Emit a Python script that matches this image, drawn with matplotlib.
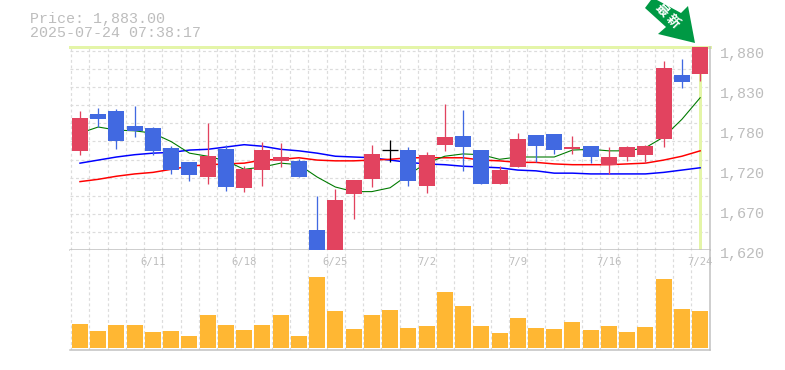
import numpy as np
import matplotlib
matplotlib.use('Agg')
import matplotlib.pyplot as plt
from matplotlib.patches import Polygon

# daily candles, oldest first
opens = [1748, 1796, 1800, 1780, 1778, 1752, 1733, 1714, 1750, 1700,
         1723, 1735, 1735, 1645, 1610, 1692, 1711, 1749, 1749, 1702,
         1756, 1767, 1749, 1705, 1727, 1769, 1770, 1750, 1754, 1730,
         1740, 1743, 1763, 1847, 1848]
closes = [1791, 1789, 1761, 1774, 1748, 1723, 1717, 1741, 1701, 1724,
          1749, 1740, 1714, 1610, 1684, 1710, 1744, 1749, 1709, 1743,
          1766, 1753, 1705, 1723, 1763, 1754, 1749, 1753, 1740, 1740,
          1753, 1754, 1856, 1838, 1883]
highs = [1800, 1804, 1802, 1806, 1779, 1754, 1733, 1784, 1756, 1728,
         1759, 1758, 1737, 1689, 1698, 1710, 1756, 1762, 1753, 1746,
         1809, 1801, 1749, 1728, 1771, 1769, 1770, 1767, 1754, 1753,
         1754, 1756, 1865, 1867, 1883]
lows = [1743, 1779, 1750, 1766, 1743, 1718, 1709, 1705, 1696, 1695,
        1702, 1727, 1714, 1605, 1610, 1659, 1701, 1733, 1702, 1693,
        1748, 1722, 1705, 1705, 1727, 1733, 1744, 1744, 1732, 1718,
        1735, 1732, 1753, 1830, 1839]

ma_green = [1771, 1779, 1775, 1774, 1771, 1760, 1745, 1741, 1735, 1724,
            1727, 1732, 1730, 1714, 1701, 1695, 1695, 1700, 1717, 1732,
            1741, 1744, 1743, 1737, 1740, 1740, 1740, 1749, 1750, 1748,
            1748, 1752, 1766, 1789, 1817]
ma_blue = [1732, 1736, 1740, 1743, 1745, 1746, 1749, 1750, 1753, 1756,
           1754, 1750, 1748, 1745, 1741, 1740, 1739, 1736, 1733, 1731,
           1730, 1728, 1727, 1726, 1723, 1722, 1719, 1719, 1718, 1718,
           1718, 1718, 1720, 1723, 1726]
ma_red = [1708, 1711, 1715, 1718, 1720, 1724, 1728, 1730, 1731, 1732,
          1736, 1737, 1739, 1736, 1735, 1735, 1736, 1737, 1739, 1739,
          1739, 1739, 1736, 1735, 1733, 1733, 1731, 1730, 1730, 1730,
          1731, 1732, 1736, 1741, 1748]

volumes = [72, 51, 69, 69, 48, 51, 36, 99, 69, 54, 69, 99, 36, 213, 111, 57, 99, 114,
           60, 66, 168, 126, 66, 45, 90, 60, 57, 78, 54, 66, 48, 63, 207, 117, 111]

date_idx = [4, 9, 14, 19, 24, 29, 34]
date_labels = ['6/11', '6/18', '6/25', '7/2', '7/9', '7/16', '7/24']
price_labels = ['1,880', '1,830', '1,780', '1,720', '1,670', '1,620']

RED = '#e2435f'
BLUE = '#4169e1'
AMBER = '#ffb733'
GRID = '#dcdcdc'
FRAME = '#c0c0c0'
TEXT = '#bdbdbd'
LIME = '#e4f5a8'
PX = 0.72  # one pixel in points at dpi 100
W, H = 785, 370


def rect(x0, y0, x1, y1):
    return [x0 / W, 1 - y1 / H, (x1 - x0) / W, (y1 - y0) / H]


def style_panel(ax):
    ax.set_xlim(-0.548, 34.54)
    ax.set_xticks(np.arange(35) - 0.5 + 0.02)
    ax.tick_params(length=0, labelbottom=False, labelleft=False)
    ax.grid(True, color=GRID, lw=PX * 1.2, linestyle=(0, (2.4, 2.2)))
    ax.set_axisbelow(True)
    for side in ['top', 'left']:
        ax.spines[side].set_visible(False)
    ax.spines['bottom'].set_color(FRAME)
    ax.spines['bottom'].set_linewidth(PX * 1.5)
    ax.spines['right'].set_color(FRAME)
    ax.spines['right'].set_linewidth(PX * 1.5)


fig = plt.figure(figsize=(W / 100, H / 100), dpi=100)

ax = fig.add_axes(rect(70, 47, 710, 250))
style_panel(ax)
ymin, ymax = 1619.1, 1883
ax.set_ylim(ymin, ymax)
ax.set_yticks(ymin + np.arange(12) * 23.53)

x = np.arange(len(opens))

ax.axvline(34, color=LIME, lw=PX * 3, zorder=1.5)
ax.axhline(ymax, color=LIME, lw=PX * 3, zorder=1.5, clip_on=False)

ax.plot(x, ma_blue, color='#0000ff', lw=PX * 1.5, zorder=2)
ax.plot(x, ma_red, color='#ff0000', lw=PX * 1.5, zorder=2)
ax.plot(x, ma_green, color='#007a00', lw=PX * 1.1, zorder=2.1)

for i in x:
    o, c = opens[i], closes[i]
    col = RED if c > o else BLUE
    if c == o:
        col = 'black'
        ax.hlines(c, i - 0.44, i + 0.44, color=col, lw=PX * 1.3, zorder=3)
    ax.vlines(i, lows[i], highs[i], color=col, lw=PX * 1.3, zorder=3)
    if c != o:
        ax.bar(i, abs(c - o), bottom=min(o, c), width=0.877, color=col, zorder=3)

vol = fig.add_axes(rect(70, 250, 710, 350))
style_panel(vol)
vol.set_ylim(-7, 293)
vol.set_yticks([])
vol.bar(x, volumes, width=0.877, color=AMBER, zorder=3)
for i, lab in zip(date_idx, date_labels):
    vol.text(i, 0.88, lab, transform=vol.get_xaxis_transform(), ha='center', va='center',
             color=TEXT, fontsize=7.6, family='DejaVu Sans Mono', zorder=4, clip_on=False)

# overlay in pixel coordinates for the header, price labels and arrow
ov = fig.add_axes([0, 0, 1, 1])
ov.set_xlim(0, W)
ov.set_ylim(H, 0)
ov.axis('off')
ov.patch.set_alpha(0)

ov.text(30, 19, 'Price: 1,883.00', family='Liberation Mono', fontsize=10.8, color=TEXT, va='center')
ov.text(30, 33, '2025-07-24 07:38:17', family='Liberation Mono', fontsize=10.8, color=TEXT, va='center')

for k, lab in enumerate(price_labels):
    ov.text(720, 54 + 40 * k, lab, family='Liberation Mono', fontsize=10.8, color=TEXT, va='center')

arrow = [(645, 8), (651, 0), (657, 0), (681, 13), (688, 6), (695, 43), (658, 34), (666, 27)]
ov.add_patch(Polygon(arrow, closed=True, color='#009944', lw=0))
ov.text(662, 10, '最', family='Noto Sans CJK JP', weight='bold', fontsize=9.5, color='white',
        rotation=-45, ha='center', va='center', rotation_mode='anchor')
ov.text(673, 21, '新', family='Noto Sans CJK JP', weight='bold', fontsize=9.5, color='white',
        rotation=-45, ha='center', va='center', rotation_mode='anchor')

fig.savefig('out.png', dpi=100)
